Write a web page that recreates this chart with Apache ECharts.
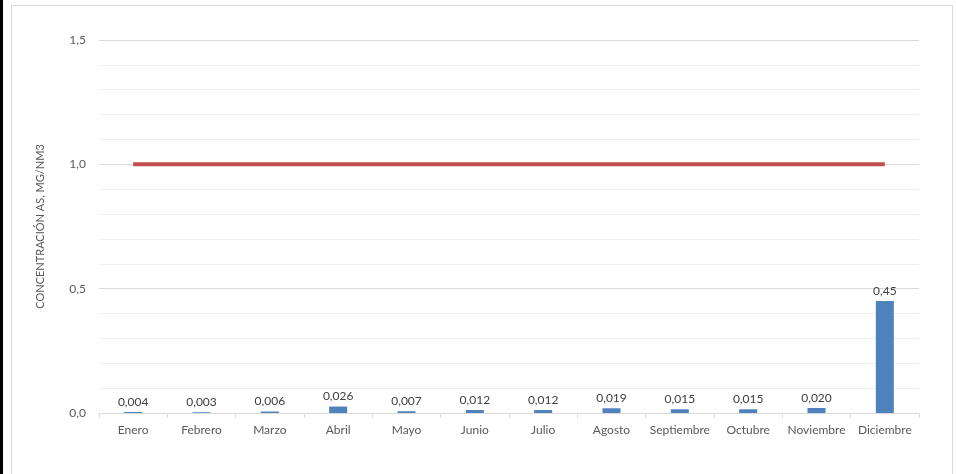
<!DOCTYPE html>
<html>
<head>
<meta charset="utf-8">
<script src="https://cdn.jsdelivr.net/npm/echarts@6/dist/echarts.min.js"></script>
<style>
  html, body { margin: 0; padding: 0; background: #fff; }
  #chart { position: absolute; left: 0; top: 0; width: 956px; height: 474px; }
  #edge { position: absolute; left: 0; top: 0; width: 3px; height: 474px; background: #000; }
  #frame { position: absolute; left: 11px; top: 5px; width: 940px; height: 475px;
           border: 1px solid #d9d9d9; pointer-events: none; }
</style>
</head>
<body>
<div id="chart"></div>
<div id="edge"></div>
<div id="frame"></div>
<script>
// meses y concentraciones
const months = ['Enero', 'Febrero', 'Marzo', 'Abril', 'Mayo', 'Junio', 'Julio',
  'Agosto', 'Septiembre', 'Octubre', 'Noviembre', 'Diciembre']
const concentracion = [0.004, 0.003, 0.006, 0.026, 0.007, 0.012, 0.012,
  0.019, 0.015, 0.015, 0.020, 0.45]
const limite = [1, 1, 1, 1, 1, 1, 1, 1, 1, 1, 1, 1]

const fontFamily = 'Lato, "Open Sans", sans-serif'

function fmtValue(v) {
  const s = v >= 0.1 ? v.toFixed(2) : v.toFixed(3)
  return s.replace('.', ',')
}

const option = {
  animation: false,
  textStyle: { fontFamily: fontFamily },
  grid: {
    left: 99,
    right: 37,
    top: 40,
    bottom: 61
  },
  xAxis: {
    type: 'category',
    data: months,
    axisLine: { lineStyle: { color: '#d9d9d9' } },
    axisTick: { show: true, length: 5, lineStyle: { color: '#d9d9d9' } },
    axisLabel: { interval: 0, color: '#595959', fontSize: 12, margin: 11, fontFamily: fontFamily }
  },
  yAxis: {
    type: 'value',
    min: 0,
    max: 1.5,
    interval: 0.5,
    name: 'CONCENTRACIÓN AS, MG/NM3',
    nameLocation: 'middle',
    nameGap: 53,
    nameTextStyle: { color: '#595959', fontSize: 11, fontFamily: fontFamily },
    axisLine: { show: false },
    axisTick: { show: false },
    axisLabel: {
      color: '#595959',
      fontSize: 12,
      margin: 13,
      fontFamily: fontFamily,
      formatter: v => v.toFixed(1).replace('.', ',')
    },
    splitLine: { lineStyle: { color: '#d9d9d9' } },
    minorTick: { show: false, splitNumber: 5 },
    minorSplitLine: { show: true, lineStyle: { color: '#eeeeee' } }
  },
  series: [
    {
      name: 'Concentración',
      type: 'bar',
      data: concentracion,
      barWidth: 18,
      itemStyle: { color: '#4f81bd' },
      label: {
        show: true,
        position: 'top',
        distance: 4,
        color: '#404040',
        fontSize: 12,
        fontFamily: fontFamily,
        formatter: p => fmtValue(p.value)
      }
    },
    {
      name: 'Límite',
      type: 'line',
      data: limite,
      symbol: 'none',
      lineStyle: { color: '#c0504d', width: 4 },
      z: 3
    }
  ]
}

const myChart = echarts.init(document.getElementById('chart'))
myChart.setOption(option)
</script>
</body>
</html>
